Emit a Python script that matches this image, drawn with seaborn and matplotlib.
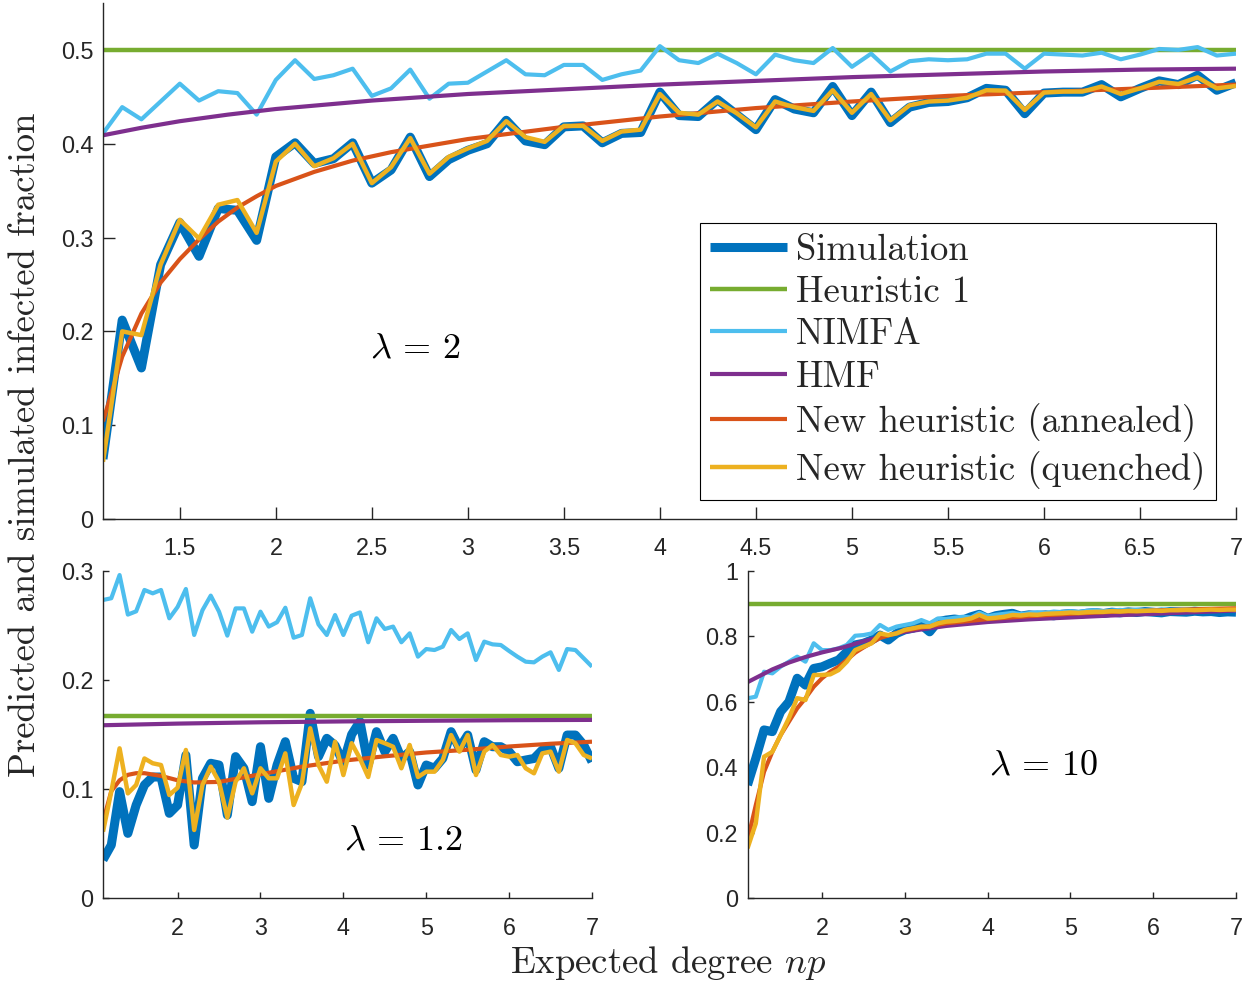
import matplotlib
matplotlib.use("Agg")
import matplotlib.pyplot as plt
import seaborn as sns
from matplotlib.font_manager import FontProperties

# ---------------------------------------------------------------- data
# expected degree np (shared grid of the noisy series)
np_grid = [1.1, 1.2, 1.3, 1.4, 1.5, 1.6, 1.7, 1.8, 1.9, 2.0,
           2.1, 2.2, 2.3, 2.4, 2.5, 2.6, 2.7, 2.8, 2.9, 3.0,
           3.1, 3.2, 3.3, 3.4, 3.5, 3.6, 3.7, 3.8, 3.9, 4.0,
           4.1, 4.2, 4.3, 4.4, 4.5, 4.6, 4.7, 4.8, 4.9, 5.0,
           5.1, 5.2, 5.3, 5.4, 5.5, 5.6, 5.7, 5.8, 5.9, 6.0,
           6.1, 6.2, 6.3, 6.4, 6.5, 6.6, 6.7, 6.8, 6.9, 7.0]
x_ends = [1.1, 7.0]

# ---- lambda = 2
sim_l2 = [0.064, 0.212, 0.161, 0.271, 0.316, 0.280, 0.331, 0.329, 0.297, 0.386,
          0.401, 0.379, 0.384, 0.401, 0.358, 0.372, 0.407, 0.365, 0.383, 0.393,
          0.400, 0.425, 0.403, 0.399, 0.418, 0.419, 0.401, 0.411, 0.412, 0.455,
          0.430, 0.429, 0.447, 0.431, 0.415, 0.447, 0.437, 0.433, 0.461, 0.430,
          0.455, 0.4225, 0.439, 0.444, 0.445, 0.449, 0.459, 0.457, 0.432, 0.454,
          0.455, 0.455, 0.463, 0.450, 0.459, 0.467, 0.463, 0.473, 0.457, 0.465]
heur1_l2 = [0.5, 0.5]
nimfa_l2 = [0.411, 0.439, 0.426, 0.445, 0.464, 0.446, 0.456, 0.454, 0.431, 0.468,
            0.489, 0.469, 0.473, 0.480, 0.451, 0.459, 0.479, 0.448, 0.464, 0.465,
            0.477, 0.489, 0.474, 0.473, 0.484, 0.484, 0.468, 0.474, 0.478, 0.504,
            0.489, 0.486, 0.496, 0.486, 0.474, 0.495, 0.489, 0.486, 0.502, 0.482,
            0.496, 0.477, 0.488, 0.490, 0.489, 0.490, 0.496, 0.496, 0.480, 0.496,
            0.495, 0.494, 0.497, 0.490, 0.495, 0.501, 0.500, 0.503, 0.494, 0.496]
hmf_x_l2 = [1.1, 1.3, 1.5, 1.75, 2.0, 2.5, 3.0, 3.5, 4.0, 4.5, 5.0, 5.5, 6.0, 6.5, 7.0]
hmf_l2 = [0.409, 0.417, 0.424, 0.431, 0.437, 0.446, 0.453, 0.458, 0.463, 0.467,
          0.471, 0.474, 0.477, 0.479, 0.480]
ann_x_l2 = [1.1, 1.2, 1.3, 1.4, 1.5, 1.6, 1.7, 1.8, 1.9, 2.0, 2.2, 2.4, 2.6,
            3.0, 3.5, 4.0, 4.5, 5.0, 5.5, 6.0, 6.5, 7.0]
ann_l2 = [0.104, 0.173, 0.219, 0.252, 0.277, 0.298, 0.317, 0.332, 0.344, 0.355,
          0.370, 0.382, 0.391, 0.405, 0.418, 0.429, 0.438, 0.445, 0.451, 0.455,
          0.459, 0.463]
quen_l2 = [0.061, 0.200, 0.196, 0.271, 0.319, 0.299, 0.335, 0.340, 0.305, 0.381,
           0.400, 0.376, 0.3845, 0.400, 0.358, 0.375, 0.406, 0.368, 0.386, 0.395,
           0.403, 0.424, 0.407, 0.402, 0.419, 0.419, 0.403, 0.413, 0.415, 0.453,
           0.433, 0.431, 0.445, 0.4325, 0.4175, 0.445, 0.439, 0.435, 0.457, 0.433,
           0.453, 0.425, 0.441, 0.445, 0.446, 0.449, 0.457, 0.4566, 0.436, 0.4545,
           0.4556, 0.4556, 0.461, 0.453, 0.459, 0.466, 0.4637, 0.4707, 0.459, 0.4616]

# ---- lambda = 1.2
sim_l12 = [0.035, 0.0486, 0.0976, 0.0593, 0.0853, 0.1037, 0.111, 0.111, 0.0777, 0.0853,
           0.131, 0.0486, 0.1098, 0.1236, 0.122, 0.0761, 0.1297, 0.119, 0.0884, 0.1388,
           0.0914, 0.122, 0.1434, 0.1098, 0.1067, 0.1694, 0.1297, 0.1465, 0.140, 0.124,
           0.150, 0.162, 0.122, 0.1526, 0.1343, 0.1465, 0.128, 0.1343, 0.1037, 0.122,
           0.119, 0.128, 0.1526, 0.1373, 0.1495, 0.1174, 0.1434, 0.1388, 0.1388, 0.1343,
           0.125, 0.1266, 0.128, 0.1358, 0.1388, 0.119, 0.1495, 0.1495, 0.1404, 0.125]
heur1_l12 = [0.1667, 0.1667]
nimfa_l12 = [0.2734, 0.275, 0.2963, 0.260, 0.263, 0.2826, 0.2795, 0.2826, 0.2566, 0.267,
             0.2835, 0.2413, 0.264, 0.2774, 0.2627, 0.2407, 0.2657, 0.2657, 0.2443, 0.2627,
             0.249, 0.253, 0.2663, 0.2388, 0.2413, 0.275, 0.251, 0.2413, 0.2596, 0.2413,
             0.259, 0.262, 0.2346, 0.2566, 0.2468, 0.249, 0.2346, 0.2428, 0.2214, 0.2284,
             0.2275, 0.2306, 0.2459, 0.2376, 0.2428, 0.2183, 0.2352, 0.2327, 0.2321, 0.2266,
             0.2214, 0.2168, 0.2162, 0.2214, 0.2254, 0.2092, 0.2284, 0.2275, 0.2199, 0.2122]
hmf_x_l12 = [1.1, 2.0, 3.0, 4.0, 5.0, 6.0, 7.0]
hmf_l12 = [0.1585, 0.1600, 0.1612, 0.1620, 0.1626, 0.1631, 0.1634]
ann_x_l12 = [1.1, 1.2, 1.3, 1.4, 1.5, 1.6, 1.8, 2.0, 2.2, 2.5, 3.0, 3.5, 4.0,
             4.5, 5.0, 5.5, 6.0, 6.5, 7.0]
ann_l12 = [0.070, 0.098, 0.108, 0.113, 0.1145, 0.1145, 0.112, 0.108, 0.106, 0.1065,
           0.1135, 0.1205, 0.126, 0.130, 0.1335, 0.136, 0.139, 0.1415, 0.1434]
quen_l12 = [0.0609, 0.0976, 0.1373, 0.096, 0.1037, 0.128, 0.1236, 0.122, 0.0945, 0.1012,
            0.1358, 0.0624, 0.1037, 0.1205, 0.1067, 0.0737, 0.1067, 0.119, 0.096, 0.119,
            0.1098, 0.1098, 0.1327, 0.0853, 0.1052, 0.1557, 0.122, 0.1067, 0.1434, 0.1128,
            0.142, 0.128, 0.111, 0.145, 0.142, 0.1388, 0.119, 0.1404, 0.111, 0.1159,
            0.1159, 0.1266, 0.1495, 0.1343, 0.1495, 0.1128, 0.1343, 0.1404, 0.1312, 0.1297,
            0.1312, 0.119, 0.1144, 0.1327, 0.1343, 0.1159, 0.145, 0.142, 0.1312, 0.128]

# ---- lambda = 10
sim_l10 = [0.3456, 0.427, 0.514, 0.5087, 0.570, 0.600, 0.672, 0.651, 0.702, 0.707,
           0.718, 0.728, 0.753, 0.774, 0.779, 0.789, 0.804, 0.789, 0.809, 0.820,
           0.825, 0.835, 0.814, 0.845, 0.850, 0.853, 0.850, 0.860, 0.8675, 0.855,
           0.8634, 0.8675, 0.8706, 0.862, 0.866, 0.864, 0.866, 0.863, 0.868, 0.870,
           0.867, 0.871, 0.873, 0.870, 0.874, 0.872, 0.875, 0.873, 0.876, 0.874,
           0.872, 0.876, 0.875, 0.874, 0.877, 0.875, 0.876, 0.873, 0.875, 0.874]
heur1_l10 = [0.9, 0.9]
nimfa_l10 = [0.6106, 0.6157, 0.692, 0.687, 0.7075, 0.7227, 0.738, 0.7227, 0.779, 0.758,
             0.758, 0.7635, 0.774, 0.802, 0.804, 0.809, 0.835, 0.820, 0.830, 0.835,
             0.840, 0.850, 0.840, 0.855, 0.853, 0.857, 0.860, 0.858, 0.872, 0.862,
             0.866, 0.869, 0.872, 0.868, 0.871, 0.874, 0.872, 0.876, 0.874, 0.877,
             0.875, 0.878, 0.880, 0.877, 0.879, 0.881, 0.879, 0.882, 0.880, 0.879,
             0.883, 0.881, 0.880, 0.883, 0.881, 0.882, 0.880, 0.882, 0.881, 0.879]
hmf_x_l10 = [1.1, 1.2, 1.3, 1.4, 1.6, 1.8, 2.0, 2.25, 2.5, 2.75, 3.0, 3.5, 4.0,
             4.5, 5.0, 5.5, 6.0, 6.5, 7.0]
hmf_l10 = [0.660, 0.673, 0.686, 0.699, 0.720, 0.737, 0.751, 0.766, 0.785, 0.801,
           0.814, 0.832, 0.844, 0.852, 0.858, 0.864, 0.869, 0.874, 0.879]
ann_x_l10 = [1.1, 1.2, 1.3, 1.4, 1.5, 1.6, 1.7, 1.8, 1.9, 2.0, 2.1, 2.2, 2.3, 2.4,
             2.5, 2.7, 3.0, 3.5, 4.0, 4.5, 5.0, 5.5, 6.0, 6.5, 7.0]
ann_l10 = [0.175, 0.284, 0.386, 0.447, 0.498, 0.539, 0.580, 0.611, 0.646, 0.672,
           0.692, 0.707, 0.728, 0.750, 0.766, 0.795, 0.818, 0.840, 0.853, 0.862,
           0.869, 0.875, 0.879, 0.883, 0.886]
quen_l10 = [0.152, 0.228, 0.432, 0.447, 0.498, 0.550, 0.611, 0.6055, 0.682, 0.682,
            0.684, 0.697, 0.7227, 0.758, 0.7686, 0.779, 0.809, 0.804, 0.809, 0.820,
            0.825, 0.830, 0.830, 0.840, 0.845, 0.847, 0.850, 0.855, 0.8655, 0.855,
            0.857, 0.860, 0.8655, 0.864, 0.867, 0.866, 0.869, 0.870, 0.871, 0.873,
            0.872, 0.874, 0.875, 0.875, 0.877, 0.876, 0.878, 0.877, 0.878, 0.879,
            0.878, 0.880, 0.880, 0.881, 0.880, 0.881, 0.882, 0.881, 0.882, 0.882]

series_labels = ["Simulation", "Heuristic 1", "NIMFA", "HMF",
                 "New heuristic (annealed)", "New heuristic (quenched)"]

top_xticks = [1.5, 2, 2.5, 3, 3.5, 4, 4.5, 5, 5.5, 6, 6.5, 7]
top_xticklabels = ["1.5", "2", "2.5", "3", "3.5", "4", "4.5", "5", "5.5", "6", "6.5", "7"]
top_yticks = [0, 0.1, 0.2, 0.3, 0.4, 0.5]
top_yticklabels = ["0", "0.1", "0.2", "0.3", "0.4", "0.5"]
bot_xticks = [2, 3, 4, 5, 6, 7]
bot_xticklabels = ["2", "3", "4", "5", "6", "7"]
bl_yticks = [0, 0.1, 0.2, 0.3]
bl_yticklabels = ["0", "0.1", "0.2", "0.3"]
br_yticks = [0, 0.2, 0.4, 0.6, 0.8, 1]
br_yticklabels = ["0", "0.2", "0.4", "0.6", "0.8", "1"]

# ---------------------------------------------------------------- style
sns.set_theme(style="white")
plt.rcParams["font.family"] = ["Liberation Sans", "DejaVu Sans"]
plt.rcParams["mathtext.fontset"] = "cm"

C_SIM = "#0072BD"
C_H1 = "#77AC30"
C_NIMFA = "#4DBEEE"
C_HMF = "#7E2F8E"
C_ANN = "#D95319"
C_QUEN = "#EDB120"
AX_COL = "#262626"

CM_SIZE = 26.4
cm_font = FontProperties(family="cmr10", size=CM_SIZE)

W, H = 1256, 982
fig = plt.figure(figsize=(W / 100, H / 100), dpi=100)
fig.patch.set_facecolor("white")

ax_top = fig.add_axes([103 / W, 1 - 519 / H, 1133 / W, 516 / H])
ax_bl = fig.add_axes([103 / W, 1 - 898 / H, 489 / W, 327 / H])
ax_br = fig.add_axes([747.5 / W, 1 - 898 / H, 488.5 / W, 327 / H])


def draw_panel(ax, sim, heur, nimfa, hmf_x, hmf, ann_x, ann, quen):
    sns.lineplot(x=np_grid, y=sim, ax=ax, color=C_SIM, linewidth=6.5,
                 label=series_labels[0], legend=False)
    sns.lineplot(x=x_ends, y=heur, ax=ax, color=C_H1, linewidth=3.2,
                 label=series_labels[1], legend=False)
    sns.lineplot(x=np_grid, y=nimfa, ax=ax, color=C_NIMFA, linewidth=3.0,
                 label=series_labels[2], legend=False)
    sns.lineplot(x=hmf_x, y=hmf, ax=ax, color=C_HMF, linewidth=3.0,
                 label=series_labels[3], legend=False)
    sns.lineplot(x=ann_x, y=ann, ax=ax, color=C_ANN, linewidth=3.0,
                 label=series_labels[4], legend=False)
    sns.lineplot(x=np_grid, y=quen, ax=ax, color=C_QUEN, linewidth=3.2,
                 label=series_labels[5], legend=False)
    for ln in ax.lines:
        ln.set_solid_joinstyle("round")
        ln.set_solid_capstyle("butt")


def style_axes(ax, xticks, xlabels, yticks, ylabels, ylim, ticklen, xpad):
    ax.set_xlim(1.1, 7.0)
    ax.set_ylim(*ylim)
    ax.set_xticks(xticks)
    ax.set_xticklabels(xlabels)
    ax.set_yticks(yticks)
    ax.set_yticklabels(ylabels)
    ax.set_xlabel("")
    ax.set_ylabel("")
    for side in ("top", "right"):
        ax.spines[side].set_visible(False)
    for side in ("left", "bottom"):
        ax.spines[side].set_color(AX_COL)
        ax.spines[side].set_linewidth(1.0)
    ax.tick_params(axis="both", which="major", direction="in", length=ticklen,
                   width=1.0, color=AX_COL, labelcolor=AX_COL, labelsize=16.8,
                   bottom=True, left=True, top=False, right=False)
    ax.tick_params(axis="x", pad=xpad)
    ax.tick_params(axis="y", pad=7)
    ax.set_facecolor("white")


draw_panel(ax_top, sim_l2, heur1_l2, nimfa_l2, hmf_x_l2, hmf_l2, ann_x_l2, ann_l2, quen_l2)
draw_panel(ax_bl, sim_l12, heur1_l12, nimfa_l12, hmf_x_l12, hmf_l12, ann_x_l12, ann_l12, quen_l12)
draw_panel(ax_br, sim_l10, heur1_l10, nimfa_l10, hmf_x_l10, hmf_l10, ann_x_l10, ann_l10, quen_l10)

style_axes(ax_top, top_xticks, top_xticklabels, top_yticks, top_yticklabels,
           (0, 0.55), 8.6, 13)
style_axes(ax_bl, bot_xticks, bot_xticklabels, bl_yticks, bl_yticklabels,
           (0, 0.3), 4.3, 14)
style_axes(ax_br, bot_xticks, bot_xticklabels, br_yticks, br_yticklabels,
           (0, 1.0), 4.3, 14)

# panel annotations
ax_top.text(0.2754, 0.3314, r"$\lambda \,=\, 2$", transform=ax_top.transAxes,
            ha="center", va="center", fontsize=26, color="black")
ax_bl.text(0.6135, 0.1774, r"$\lambda \,=\, 1.2$", transform=ax_bl.transAxes,
           ha="center", va="center", fontsize=26, color="black")
ax_br.text(0.605, 0.4067, r"$\lambda \,=\, 10$", transform=ax_br.transAxes,
           ha="center", va="center", fontsize=26, color="black")

# legend in the top panel
handles = ax_top.lines[:6]
leg = ax_top.legend(handles, series_labels, loc="lower right",
                    bbox_to_anchor=((1216 - 103) / 1133, (519 - 500) / 516),
                    borderaxespad=0, prop=cm_font, frameon=True, fancybox=False,
                    framealpha=1, edgecolor="black", handlelength=2.1,
                    handletextpad=0.25, labelspacing=0.25, borderpad=0.28)
leg.get_frame().set_linewidth(0.8)

# shared axis titles
fig.text(25 / W, 1 - 445 / H, "Predicted and simulated infected fraction",
         rotation=90, ha="center", va="center", fontproperties=cm_font)
fig.text(668 / W, 1 - 963 / H, r"Expected degree $np$",
         ha="center", va="center", fontproperties=cm_font)

fig.savefig("out.png", dpi=100, facecolor="white")
